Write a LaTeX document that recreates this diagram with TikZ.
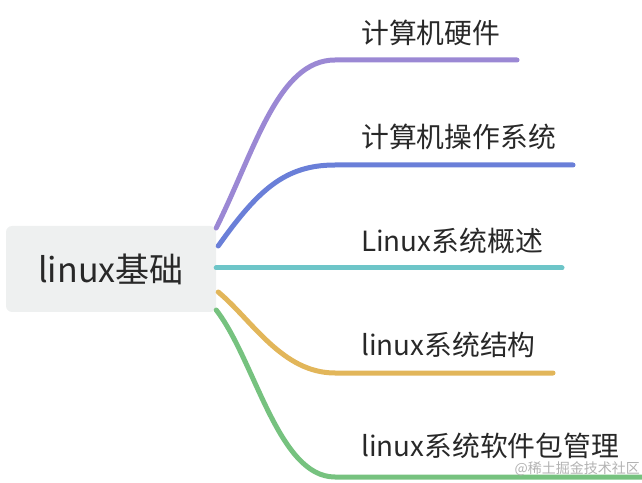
\documentclass[tikz,border=0pt]{standalone}
\usepackage{fontspec}
\setmainfont{Noto Sans CJK SC}
\definecolor{mmpurple}{RGB}{155,136,212}
\definecolor{mmblue}{RGB}{106,127,216}
\definecolor{mmteal}{RGB}{109,197,200}
\definecolor{mmgold}{RGB}{226,182,90}
\definecolor{mmgreen}{RGB}{118,194,127}
\definecolor{mmroot}{RGB}{238,240,240}
\definecolor{mmtext}{RGB}{40,40,40}
\usetikzlibrary{positioning,calc}

\begin{document}
\begin{tikzpicture}[x=1pt,y=1pt,
  rootbox/.style={fill=mmroot,rounded corners=6pt,minimum width=210pt,minimum height=86pt,
    font=\fontsize{34}{37}\selectfont,text=mmtext},
  topic/.style={anchor=west,inner sep=0pt,font=\fontsize{27.8}{30}\selectfont,text=mmtext},
  branch/.style={line width=5pt,line cap=round}
]
  \useasboundingbox (0,0) rectangle (642,482);

  % root
  \node[rootbox] (root) at (111,213) {linux基础};

  % topics
  \node[topic] (hw) at (361,449) {计算机硬件};
  \node[topic] (os) at (361,345) {计算机操作系统};
  \node[topic] (intro) at (361,241) {Linux系统概述};
  \node[topic] (arch) at (361,137) {linux系统结构};
  \node[topic] (pkg) at (361,36) {linux系统软件包管理};

  % line ends
  \coordinate (hw-end) at (517,422);
  \coordinate (os-end) at (573,317);
  \coordinate (intro-end) at (562,214);
  \coordinate (arch-end) at (553,109);
  \coordinate (pkg-end) at (645,5);

  % branches
  \draw[branch,mmpurple] ($(root.east)+(0,41)$) .. controls (255,332) and (278,422) .. (335,422) -- (hw-end);
  \draw[branch,mmblue] ($(root.east)+(2,23)$) .. controls (258,292) and (285,317) .. (335,317) -- (os-end);
  \draw[branch,mmteal] ($(root.east)+(0,1)$) -- (intro-end);
  \draw[branch,mmgold] ($(root.east)+(2,-23)$) .. controls (252,162) and (282,109) .. (335,109) -- (arch-end);
  \draw[branch,mmgreen] ($(root.east)+(0,-41)$) .. controls (255,122) and (278,5) .. (335,5) -- (pkg-end);

  % watermark
  \node[anchor=east,inner sep=0pt,font=\fontsize{14}{16}\selectfont,text=black!30] (mark) at (640,13) {@稀土掘金技术社区};
\end{tikzpicture}
\end{document}
